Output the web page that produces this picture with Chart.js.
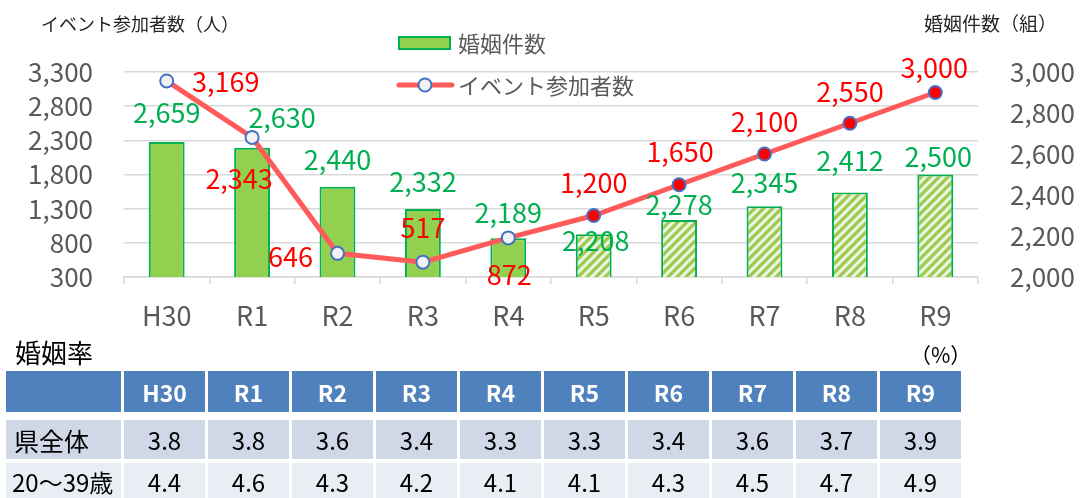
<!DOCTYPE html>
<html lang="ja">
<head>
<meta charset="utf-8">
<title>婚姻件数とイベント参加者数</title>
<script src="https://cdn.jsdelivr.net/npm/chart.js@4.4.1/dist/chart.umd.min.js"></script>
<style>
  body { margin: 0; width: 1082px; height: 498px; background: #fff; position: relative; overflow: hidden;
         font-family: "Noto Sans CJK JP", "Noto Sans", sans-serif; }
  #chartBox { position: absolute; left: 0; top: 0; width: 1082px; height: 345px; }
  .caption { position: absolute; left: 15px; top: 334px; font-size: 26px; color: #000; line-height: 36px; }
  .unit { position: absolute; left: 910px; top: 340px; font-size: 21px; color: #000; line-height: 28px; }
  #rateTable { position: absolute; left: 3px; top: 367px; border-collapse: separate; border-spacing: 3px 4px; }
  #rateTable th, #rateTable td { padding: 0; text-align: center; box-sizing: border-box; }
  #rateTable th { background: #4F81BD; color: #fff; font-weight: bold; font-size: 23px; height: 45px;
                  border-bottom: 4px solid #fff; width: 81px; }
  #rateTable th.corner { width: 115px; }
  #rateTable tr.pref td { background: #D0D8E8; height: 39px; }
  #rateTable tr.young td { background: #E9EDF4; height: 37px; }
  #rateTable td { font-size: 24px; color: #000; }
  #rateTable td.label { text-align: left; padding-left: 8px; font-size: 25px; }
  #rateTable tr.young td.label { padding-left: 6px; font-size: 24px; }
</style>
</head>
<body>
<div id="chartBox"><canvas id="chart" width="1082" height="345"></canvas></div>
<div class="caption">婚姻率</div>
<div class="unit">（%）</div>
<table id="rateTable"></table>

<script>
// 年度
const years = ['H30', 'R1', 'R2', 'R3', 'R4', 'R5', 'R6', 'R7', 'R8', 'R9'];
// 婚姻件数（組） — R5 以降は目標値
const marriages = [2659, 2630, 2440, 2332, 2189, 2208, 2278, 2345, 2412, 2500];
// イベント参加者数（人）
const participants = [3169, 2343, 646, 517, 872, 1200, 1650, 2100, 2550, 3000];
// 婚姻率（%）
const ratePref = [3.8, 3.8, 3.6, 3.4, 3.3, 3.3, 3.4, 3.6, 3.7, 3.9];
const rateYoung = [4.4, 4.6, 4.3, 4.2, 4.1, 4.1, 4.3, 4.5, 4.7, 4.9];
// 目標値が始まる年度
const planStart = 'R5';
// 軸の範囲
const leftRange = { min: 300, max: 3300, step: 500 };
const rightRange = { min: 2000, max: 3000, step: 200 };

// ラベルのずらし量 [dx, dy]
const barLabelShift = [[0, -29], [30, -30], [0, -27], [0, -27], [0, -26], [2, 6], [0, -15], [0, -24], [0, -32], [3, -18]];
const lineLabelShift = [[59, 1], [-13, 41], [-47, 3], [0, -34], [1, 37], [0, -33], [1, -33], [0, -32], [0, -32], [-1, -25]];

const FONT = '"Noto Sans CJK JP", "Noto Sans", sans-serif';
Chart.defaults.font.family = FONT;
Chart.defaults.color = '#595959';

const GREEN = '#92D050', GREEN_EDGE = '#00B050', LINE_RED = '#FF5B5B', BLUE_EDGE = '#4472C4';
const planIdx = years.indexOf(planStart);
const fmt = v => v.toLocaleString('en-US');

function hatch () {
  const c = document.createElement('canvas')
  c.width = 9; c.height = 9
  const g = c.getContext('2d')
  g.fillStyle = '#EAF5DE'
  g.fillRect(0, 0, 9, 9)
  g.strokeStyle = '#9CC94E'
  g.lineWidth = 3.2
  g.beginPath()
  g.moveTo(-2, 11); g.lineTo(11, -2)
  g.moveTo(-2, 2); g.lineTo(2, -2)
  g.moveTo(7, 11); g.lineTo(11, 7)
  g.stroke()
  return g.createPattern(c, 'repeat')
}
const stripes = hatch();

// 数値ラベル・凡例・軸タイトル
const decorations = {
  id: 'decorations',
  afterDatasetsDraw (chart) {
    const ctx = chart.ctx
    ctx.save()
    ctx.font = '27px ' + FONT
    ctx.textAlign = 'center'
    ctx.textBaseline = 'middle'
    const bars = chart.getDatasetMeta(1).data
    ctx.fillStyle = GREEN_EDGE
    bars.forEach((el, i) => {
      ctx.fillText(fmt(marriages[i]), el.x + barLabelShift[i][0], el.y + barLabelShift[i][1])
    })
    const pts = chart.getDatasetMeta(0).data
    ctx.fillStyle = '#FF0000'
    pts.forEach((el, i) => {
      ctx.fillText(fmt(participants[i]), el.x + lineLabelShift[i][0], el.y + lineLabelShift[i][1])
    })

    // 凡例
    ctx.textAlign = 'left'
    ctx.font = '22px ' + FONT
    ctx.fillStyle = GREEN
    ctx.strokeStyle = GREEN_EDGE
    ctx.lineWidth = 2
    ctx.fillRect(399, 37, 51, 12)
    ctx.strokeRect(399, 37, 51, 12)
    ctx.fillStyle = '#595959'
    ctx.fillText('婚姻件数', 458, 44)
    ctx.strokeStyle = LINE_RED
    ctx.lineWidth = 5
    ctx.lineCap = 'round'
    ctx.beginPath(); ctx.moveTo(399, 85); ctx.lineTo(452, 85); ctx.stroke()
    ctx.beginPath(); ctx.arc(425, 85, 6.5, 0, Math.PI * 2)
    ctx.fillStyle = '#F2F2F2'; ctx.fill()
    ctx.strokeStyle = BLUE_EDGE; ctx.lineWidth = 2; ctx.stroke()
    ctx.fillStyle = '#595959'
    ctx.fillText('イベント参加者数', 458, 86)

    // 軸タイトル
    ctx.fillStyle = '#262626'
    ctx.font = '18px ' + FONT
    ctx.fillText('イベント参加者数（人）', 41, 24)
    ctx.font = '19px ' + FONT
    ctx.fillText('婚姻件数（組）', 924, 24)
    ctx.restore()
  }
};

new Chart(document.getElementById('chart'), {
  data: {
    labels: years,
    datasets: [
      {
        type: 'line', label: 'イベント参加者数', data: participants, yAxisID: 'y', order: 0,
        borderColor: LINE_RED, borderWidth: 5, tension: 0,
        pointRadius: 6.5, pointBorderWidth: 2, pointBorderColor: BLUE_EDGE,
        pointBackgroundColor: years.map((_, i) => i >= planIdx ? '#FF0000' : '#F2F2F2')
      },
      {
        type: 'bar', label: '婚姻件数', data: marriages, yAxisID: 'y1', order: 1,
        backgroundColor: years.map((_, i) => i >= planIdx ? stripes : GREEN),
        borderColor: GREEN_EDGE, borderWidth: 2,
        categoryPercentage: 1, barPercentage: 0.42
      }
    ]
  },
  options: {
    responsive: false, animation: false,
    layout: { padding: { top: 72, left: 0, right: 0, bottom: 0 } },
    plugins: { legend: { display: false }, tooltip: { enabled: false } },
    scales: {
      x: {
        offset: true,
        grid: { drawOnChartArea: false, drawTicks: true, tickLength: 7, offset: true, color: '#D9D9D9', lineWidth: 1.5 },
        border: { display: true, color: '#D9D9D9', width: 1.5 },
        ticks: { font: { size: 27 }, padding: 16, color: '#595959' },
        afterFit: s => { s.height = 68 }
      },
      y: {
        position: 'left', min: leftRange.min, max: leftRange.max,
        ticks: { stepSize: leftRange.step, autoSkip: false, font: { size: 26 }, padding: 31, callback: v => fmt(v) },
        grid: { color: '#D9D9D9', lineWidth: 1.5, drawTicks: false },
        border: { display: false },
        afterFit: s => { s.width = 124 }
      },
      y1: {
        position: 'right', min: rightRange.min, max: rightRange.max,
        ticks: { stepSize: rightRange.step, autoSkip: false, font: { size: 26 }, padding: 32, callback: v => fmt(v) },
        grid: { drawOnChartArea: false, drawTicks: false },
        border: { display: false },
        afterFit: s => { s.width = 104 }
      }
    }
  },
  plugins: [decorations]
});

// 婚姻率の表
const table = document.getElementById('rateTable');
let html = '<tr><th class="corner"></th>' + years.map(y => '<th>' + y + '</th>').join('') + '</tr>';
html += '<tr class="pref"><td class="label">県全体</td>' + ratePref.map(v => '<td>' + v.toFixed(1) + '</td>').join('') + '</tr>';
html += '<tr class="young"><td class="label">20〜39歳</td>' + rateYoung.map(v => '<td>' + v.toFixed(1) + '</td>').join('') + '</tr>';
table.innerHTML = html;
</script>
</body>
</html>
